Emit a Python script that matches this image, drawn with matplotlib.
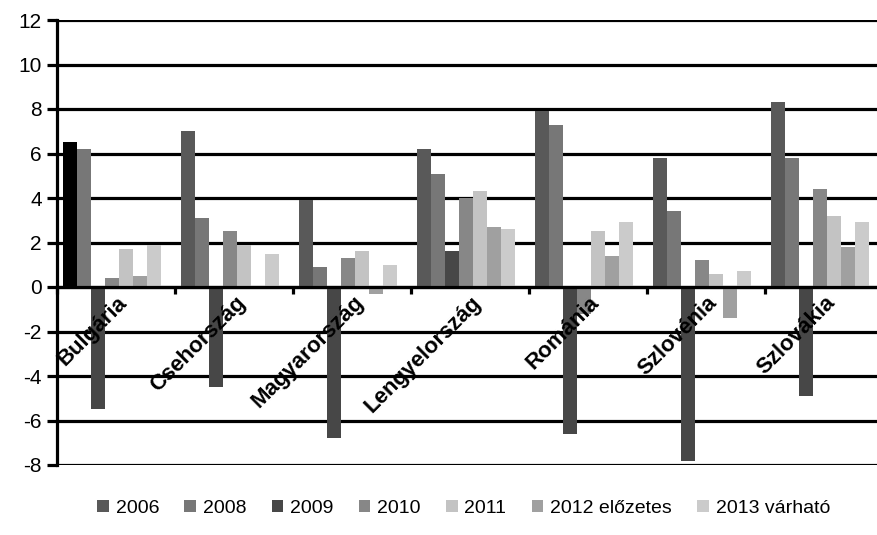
import numpy as np
import matplotlib.pyplot as plt
from matplotlib.patches import Patch

plt.rcParams['font.family'] = ['Liberation Sans', 'DejaVu Sans']
plt.rcParams['axes.unicode_minus'] = False

countries = ['Bulgária', 'Csehország', 'Magyarország', 'Lengyelország',
             'Románia', 'Szlovénia', 'Szlovákia']
years = ['2006', '2008', '2009', '2010', '2011', '2012 előzetes', '2013 várható']

g2006 = [6.5, 7.0, 3.9, 6.2, 7.9, 5.8, 8.3]
g2008 = [6.2, 3.1, 0.9, 5.1, 7.3, 3.4, 5.8]
g2009 = [-5.5, -4.5, -6.8, 1.6, -6.6, -7.8, -4.9]
g2010 = [0.4, 2.5, 1.3, 4.0, -1.2, 1.2, 4.4]
g2011 = [1.7, 1.9, 1.6, 4.3, 2.5, 0.6, 3.2]
g2012 = [0.5, 0.0, -0.3, 2.7, 1.4, -1.4, 1.8]
g2013 = [1.9, 1.5, 1.0, 2.6, 2.9, 0.7, 2.9]

series = [g2006, g2008, g2009, g2010, g2011, g2012, g2013]
colors = ['#595959', '#777777', '#474747', '#878787', '#c3c3c3', '#a0a0a0', '#cbcbcb']

fig = plt.figure(figsize=(8.78, 5.35), dpi=100)
ax = fig.add_axes([57/878, 1 - 465/535, 826/878, 445/535])

x = np.arange(len(countries))
w = 14/118
for k, vals in enumerate(series):
    cols = [colors[k]] * len(countries)
    if k == 0:
        cols[0] = '#000000'   # Bulgaria 2006 highlighted
    ax.bar(x + 0.051 + w*k + w/2, vals, width=w, color=cols, zorder=2)

ax.set_xlim(0, 7)
ax.set_ylim(-8, 12)
ax.set_yticks(np.arange(-8, 13, 2))
ax.grid(axis='y', color='black', linewidth=2.3, zorder=0)
ax.set_axisbelow(True)

for s in ['top', 'right']:
    ax.spines[s].set_visible(False)
ax.spines['left'].set_linewidth(2.3)
ax.spines['bottom'].set_position(('data', 0))
ax.spines['bottom'].set_linewidth(2.3)
ax.spines['bottom'].set_zorder(3)

ax.set_xticks(np.arange(0, 8))
ax.set_xticklabels([])
ax.tick_params(axis='x', direction='out', length=5, width=2.3)
ax.tick_params(axis='y', direction='out', length=7, width=2.3, labelsize=15, pad=4)

for i, name in enumerate(countries):
    ax.annotate(name, xy=(i + 0.5, 0), xytext=(6, -9), textcoords='offset points',
                rotation=45, rotation_mode='anchor', ha='right', va='center',
                fontsize=16, fontweight='bold', zorder=5)

handles = [Patch(facecolor=c) for c in colors]
fig.legend(handles, years, loc='center', bbox_to_anchor=(0.528, 0.05), ncol=7,
           frameon=False, fontsize=14, handlelength=0.6, handleheight=0.6,
           handletextpad=0.35, columnspacing=1.3)

fig.savefig('out.png', dpi=100)
